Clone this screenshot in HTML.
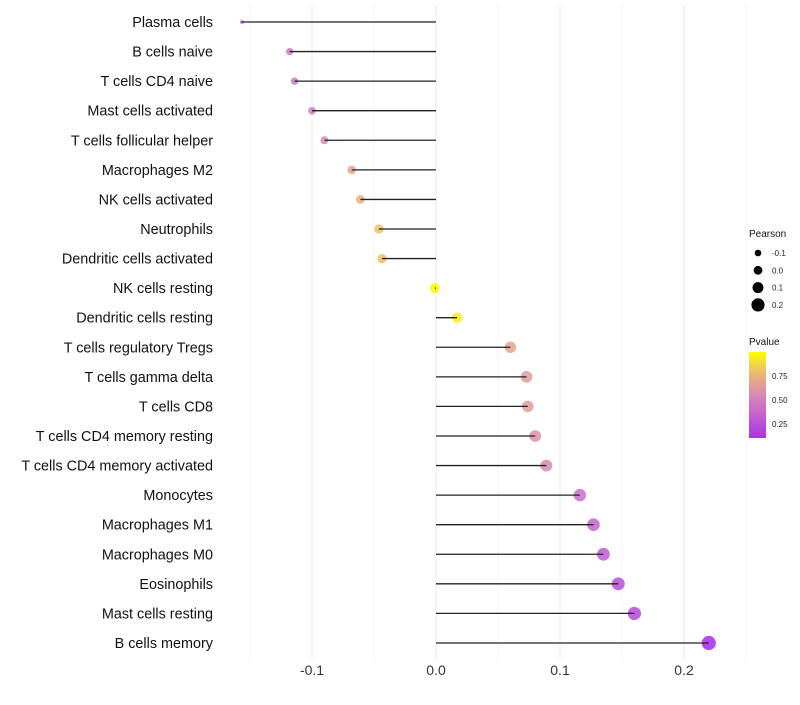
<!DOCTYPE html>
<html><head><meta charset="utf-8"><style>
body{margin:0;background:#fff;font-family:"Liberation Sans",sans-serif}
svg text{font-family:"Liberation Sans",sans-serif}
</style></head><body>
<svg id="c" width="800" height="700"></svg>
<script>
const categories=["Plasma cells","B cells naive","T cells CD4 naive","Mast cells activated","T cells follicular helper","Macrophages M2","NK cells activated","Neutrophils","Dendritic cells activated","NK cells resting","Dendritic cells resting","T cells regulatory  Tregs ","T cells gamma delta","T cells CD8","T cells CD4 memory resting","T cells CD4 memory activated","Monocytes","Macrophages M1","Macrophages M0","Eosinophils","Mast cells resting","B cells memory"];
const pearson=[-0.1565,-0.118,-0.114,-0.1,-0.09,-0.068,-0.061,-0.046,-0.0435,-0.001,0.017,0.060,0.073,0.074,0.080,0.089,0.116,0.127,0.135,0.147,0.160,0.220];
const pvalue=[0.2,0.45,0.45,0.5,0.55,0.7,0.75,0.8,0.8,1.0,0.95,0.7,0.65,0.65,0.6,0.55,0.4,0.35,0.3,0.25,0.2,0.05];
const xTicks=[-0.1,0.0,0.1,0.2];
const xTickLabels=["-0.1","0.0","0.1","0.2"];
const sizeLegend=[-0.1,0.0,0.1,0.2];
const svg=document.getElementById('c');const NS="http://www.w3.org/2000/svg";
function mk(t,a,p){const e=document.createElementNS(NS,t);for(const k in a)e.setAttribute(k,a[k]);(p||svg).appendChild(e);return e;}
const x=v=>436+v*1240;
const y=i=>22+i*29.57;
const r=v=>Math.sqrt(Math.max(1,26+110*v));
function lerp(a,b,t){return a.map((c,i)=>Math.round(c+(b[i]-c)*t));}
function col(p){const s=[[0,[160,32,240]],[0.5,[212,127,192]],[0.75,[232,176,128]],[1,[255,255,0]]];
for(let i=0;i<s.length-1;i++){if(p<=s[i+1][0]){const t=(p-s[i][0])/(s[i+1][0]-s[i][0]);const c=lerp(s[i][1],s[i+1][1],t);return `rgb(${c})`;}}return 'rgb(255,255,0)';}
for(let g=-0.15;g<=0.251;g+=0.05){const l=mk('line',{x1:x(g),x2:x(g),y1:5,y2:660,stroke:'#ebebeb','stroke-width':Math.abs(Math.round(g*20)%2)===1?0.6:1.1});
}
categories.forEach((c,i)=>{const t=mk('text',{x:213,y:y(i)+5,'text-anchor':'end','font-size':14.4,fill:'#111'});t.textContent=c;

const pt=mk('circle',{cx:x(pearson[i]),cy:y(i),r:i===0?1.8:r(pearson[i]),fill:col(pvalue[i]),opacity:0.85});

const ln=mk('line',{x1:x(0),x2:x(pearson[i]),y1:y(i),y2:y(i),stroke:'#222','stroke-width':1.3});
});
xTicks.forEach((v,i)=>{const t=mk('text',{x:x(v),y:675,'text-anchor':'middle','font-size':14,fill:'#333'});t.textContent=xTickLabels[i];
});
let t=mk('text',{x:749,y:237,'font-size':10,fill:'#111'});t.textContent='Pearson';

sizeLegend.forEach((v,i)=>{const cy=253+i*17.3;const c=mk('circle',{cx:758,cy:cy,r:3.3+i*1.1,fill:'#000'});

const tt=mk('text',{x:772,y:cy+3,'font-size':8,fill:'#222'});tt.textContent=v.toFixed(1);
});
t=mk('text',{x:749,y:345,'font-size':10,fill:'#111'});t.textContent='Pvalue';

const defs=mk('defs',{});const lg=mk('linearGradient',{id:'g',x1:0,y1:1,x2:0,y2:0},defs);
[0,0.25,0.5,0.75,1].forEach(p=>mk('stop',{offset:p,'stop-color':col(0.1+p*0.9)},lg));
const bar=mk('rect',{x:749,y:352,width:17,height:86,fill:'url(#g)'});

[[0.75,376],[0.5,400],[0.25,424]].forEach(([v,yy])=>{const tt=mk('text',{x:772,y:yy+3,'font-size':8,fill:'#222'});tt.textContent=v.toFixed(2);
});
</script>
</body></html>
